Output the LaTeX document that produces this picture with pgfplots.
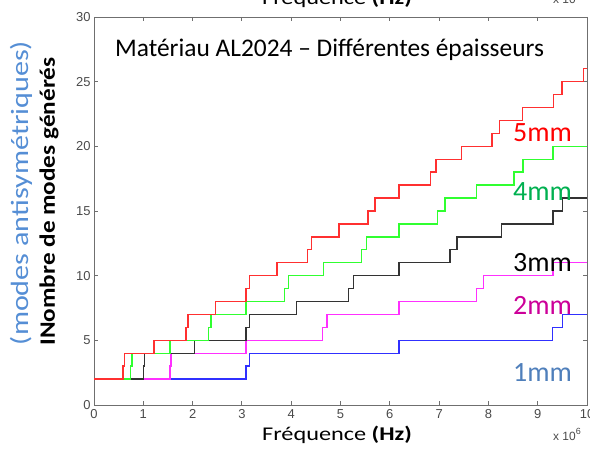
\documentclass[border=0pt]{standalone}
\usepackage{pgfplots}
\pgfplotsset{compat=1.18}
\usepackage{fontspec}
\setmainfont{Carlito}
\newfontfamily\tickfont{Liberation Sans}
\definecolor{tickgray}{HTML}{4A4A4A}
\definecolor{axgray}{HTML}{6F6F6F}
\definecolor{lblgreen}{HTML}{00B050}
\definecolor{lblmag}{HTML}{CC0099}
\definecolor{lblblue}{HTML}{4F7FBB}
\definecolor{ylblue}{HTML}{558ED5}
\definecolor{lred}{HTML}{FF3030}
\definecolor{lgreen}{HTML}{30FF30}
\definecolor{lblack}{HTML}{333333}
\definecolor{lmag}{HTML}{FF30FF}
\definecolor{lblue}{HTML}{3030FF}
\begin{document}
\begin{tikzpicture}
\useasboundingbox (0,0) rectangle (590bp,459bp);
\clip (0,0) rectangle (590bp,459bp);
\begin{axis}[
  at={(94bp,54bp)}, anchor=south west,
  scale only axis, width=493bp, height=388bp,
  xmin=0, xmax=10, ymin=0, ymax=30,
  xtick={0,1,...,10}, ytick={0,5,...,30},
  tick align=inside, major tick length=4bp,
  axis line style={axgray, line width=0.9bp},
  every tick/.style={axgray, line width=0.9bp},
  /pgf/number format/assume math mode=true,
  ticklabel style={font=\tickfont\fontsize{13}{13}\selectfont, text=tickgray},
  xticklabel style={yshift=-1bp},
  yticklabel style={xshift=0bp},
  clip=true,
]
\addplot[const plot, lblue, line width=1.4bp] coordinates {
(0,2)(3.08,3)(3.16,4)(6.19,5)(9.30,6)(9.50,7)(10,7)};
\addplot[const plot, lmag, line width=1.4bp] coordinates {
(0,2)(1.54,3)(1.56,4)(3.08,5)(4.64,6)(4.73,7)(6.19,8)(7.76,9)(7.90,10)(9.31,11)(10,11)};
\addplot[const plot, lblack, line width=1.4bp] coordinates {
(0,2)(1.00,3)(1.03,4)(2.04,5)(3.08,6)(3.16,7)(4.11,8)(5.16,9)(5.26,10)(6.19,11)(7.22,12)(7.36,13)(8.27,14)(9.31,15)(9.50,16)(10,16)};
\addplot[const plot, lgreen, line width=1.4bp] coordinates {
(0,2)(0.74,3)(0.77,4)(1.54,5)(2.32,6)(2.37,7)(3.08,8)(3.87,9)(3.95,10)(4.65,11)(5.42,12)(5.53,13)(6.19,14)(6.97,15)(7.12,16)(7.76,17)(8.52,18)(8.70,19)(9.31,20)(10,20)};
\addplot[const plot, lred, line width=1.4bp] coordinates {
(0,2)(0.59,3)(0.62,4)(1.22,5)(1.87,6)(1.91,7)(2.47,8)(3.08,9)(3.16,10)(3.71,11)(4.33,12)(4.41,13)(4.97,14)(5.56,15)(5.70,16)(6.19,17)(6.82,18)(6.94,19)(7.46,20)(8.07,21)(8.23,22)(8.69,23)(9.32,24)(9.49,25)(9.93,26)(10,26)};
\end{axis}
% title
\node[anchor=west, inner sep=0pt, font=\fontsize{25.5}{25.5}\selectfont] at (115bp,409bp) {Matériau AL2024 -- Différentes épaisseurs};
% series labels
\begin{scope}[every node/.style={anchor=west, inner sep=0pt, font=\fontsize{28}{28}\selectfont}]
\node[text=red] at (513bp,326bp) {5mm};
\node[text=lblgreen] at (513bp,267bp) {4mm};
\node[text=black] at (513bp,196bp) {3mm};
\node[text=lblmag] at (513bp,154bp) {2mm};
\node[text=lblblue] at (513bp,86bp) {1mm};
\end{scope}
% y labels
\node[rotate=90, inner sep=0pt, font=\bfseries\fontsize{22}{22}\selectfont] at (49bp,257.5bp) {\scalebox{1.15}[1]{INombre de modes générés}};
\node[rotate=90, inner sep=0pt, text=ylblue, font=\fontsize{25}{25}\selectfont] at (21bp,266bp) {\scalebox{1.21}[1]{(modes antisymétriques)}};
% x label
\node[anchor=base, inner sep=0pt, font=\fontsize{19.5}{19.5}\selectfont] at (337bp,19bp) {\scalebox{1.25}[1]{Fréquence \textbf{(Hz)}}};
\node[anchor=base west, inner sep=0pt, text=tickgray, font=\tickfont\fontsize{12}{12}\selectfont] at (553bp,19bp) {x 10\raisebox{0.9ex}{\fontsize{9}{9}\selectfont 6}};
% clipped duplicate at top
\node[anchor=base, inner sep=0pt, font=\fontsize{19.5}{19.5}\selectfont] at (337bp,454bp) {\scalebox{1.25}[1]{Fréquence \textbf{(Hz)}}};
\node[anchor=base west, inner sep=0pt, text=tickgray, font=\tickfont\fontsize{12}{12}\selectfont] at (553bp,455bp) {x 10\raisebox{0.9ex}{\fontsize{9}{9}\selectfont 6}};
\end{tikzpicture}
\end{document}
